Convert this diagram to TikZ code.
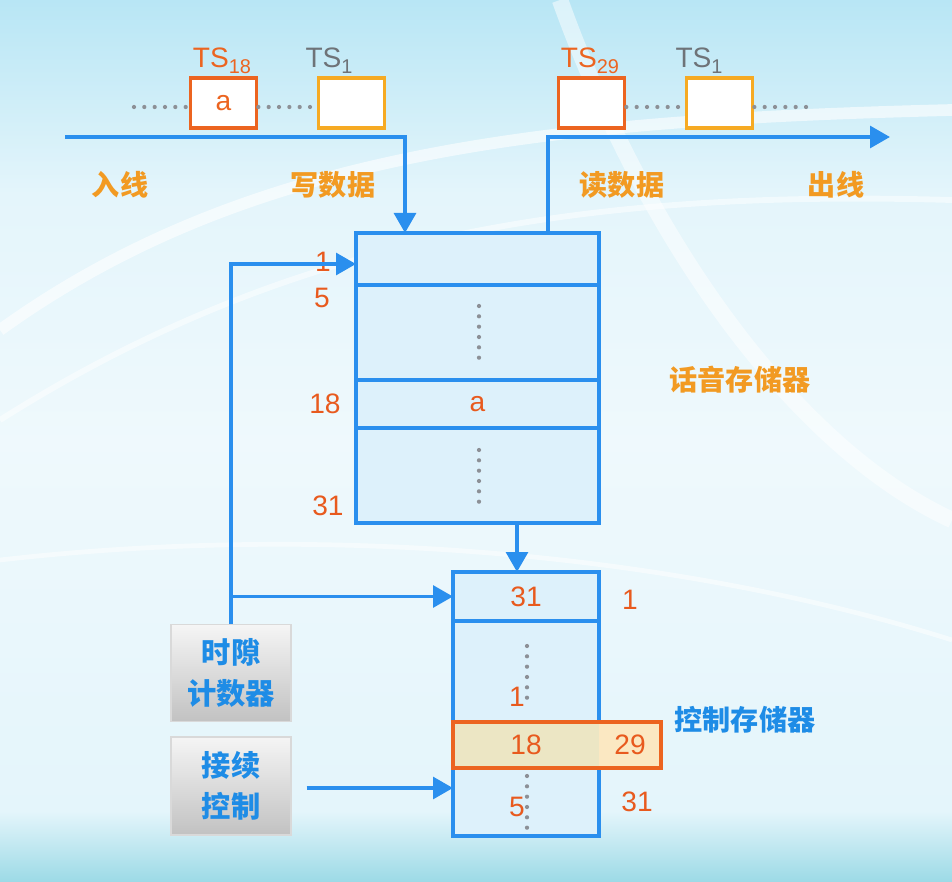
\documentclass[tikz,border=0pt]{standalone}
\usepackage{fontspec}
\setmainfont{Liberation Sans}
\newfontfamily\cjk{Noto Sans CJK SC}
\usetikzlibrary{arrows.meta,calc,positioning}

\definecolor{lineblue}{HTML}{2A8FEE}
\definecolor{numred}{HTML}{E85A1E}
\definecolor{tsred}{HTML}{EC6420}
\definecolor{tsyellow}{HTML}{F6AA23}
\definecolor{lblorange}{HTML}{F29A22}
\definecolor{zhblue}{HTML}{1E8CE6}
\definecolor{cellfill}{HTML}{DDF1FB}
\definecolor{dotgray}{HTML}{8C9096}
\definecolor{txtgray}{HTML}{6E7378}
\definecolor{hilite}{HTML}{ECE6C4}
\definecolor{hiliteR}{HTML}{FBE8C2}
\definecolor{bgtop}{HTML}{B8E6F5}
\definecolor{bgmid}{HTML}{E4F5FB}
\definecolor{bgbot}{HTML}{9CDAE6}

\pgfdeclareverticalshading{bgshade}{100bp}{color(0bp)=(bgbot); color(25bp)=(bgbot);
  color(29bp)=(bgmid); color(50bp)=(bgmid!60!white); color(64bp)=(bgmid); color(75bp)=(bgtop); color(100bp)=(bgtop)}

\tikzset{
  wire/.style={lineblue, line width=3.4pt},
  flow/.style={wire, -{Triangle[length=6mm,width=6.5mm]}},
  cell/.style={draw=lineblue, line width=3pt, fill=cellfill, inner sep=0pt, outer sep=0pt},
  slot/.style={draw=#1, line width=2.6pt, fill=white, minimum width=20mm, minimum height=15mm, inner sep=0pt},
  dots/.style={dotgray, line width=3.6pt, line cap=round, dash pattern=on 0pt off 3.1mm},
  num/.style={text=numred},
  zhlabel/.style={text=lblorange, font=\fontsize{24}{28}\selectfont\cjk\bfseries},
  graybox/.style={draw=black!15, line width=1pt, top color=black!4, bottom color=black!24,
    minimum width=36mm, minimum height=29mm, align=center, text=zhblue,
    font=\fontsize{25}{35}\selectfont\cjk\bfseries},
}

\begin{document}
\begin{tikzpicture}[x=0.3mm, y=-0.3mm, font=\fontsize{24}{28}\selectfont]

  % Hintergrund
  \useasboundingbox (0,0) rectangle (952,882);
  \shade[shading=bgshade] (0,0) rectangle (952,882);
  \draw[white, line width=10pt, opacity=0.6] (0,330) .. controls (250,150) and (550,120) .. (952,110);
  \draw[white, line width=5pt, opacity=0.5] (0,420) .. controls (300,230) and (600,190) .. (952,200);
  \draw[white, line width=14pt, opacity=0.5] (560,0) .. controls (650,250) and (800,450) .. (952,520);
  \draw[white, line width=4pt, opacity=0.5] (0,560) .. controls (350,520) and (700,560) .. (952,640);

  % Zeitschlitze am Eingang
  \node[slot=tsred, text=tsred] (ts18) at (223.5,103) {a};
  \node[slot=tsyellow] (tsin1) at (351.5,103) {};
  \node[text=tsred, anchor=base] (ts18lbl) at (222,68) {TS\raisebox{-0.35ex}{\fontsize{17}{17}\selectfont 18}};
  \node[text=txtgray, anchor=base] (tsin1lbl) at (329,68) {TS\raisebox{-0.35ex}{\fontsize{17}{17}\selectfont 1}};
  \coordinate (indots) at (134,107);
  \draw[dots] (indots) -- (ts18.west |- indots);
  \draw[dots] (ts18.east |- indots) -- (tsin1.west |- indots);

  % Zeitschlitze am Ausgang
  \node[slot=tsred] (ts29) at (591.5,103) {};
  \node[slot=tsyellow] (tsout1) at (719.5,103) {};
  \node[text=tsred, anchor=base] (ts29lbl) at (590,68) {TS\raisebox{-0.35ex}{\fontsize{17}{17}\selectfont 29}};
  \node[text=txtgray, anchor=base] (tsout1lbl) at (699,68) {TS\raisebox{-0.35ex}{\fontsize{17}{17}\selectfont 1}};
  \coordinate (outdots) at (813,107);
  \draw[dots] (ts29.east |- outdots) -- (tsout1.west |- outdots);
  \draw[dots] (tsout1.east |- outdots) -- (outdots);

  % Sprachspeicher
  \node[cell, minimum width=72.9mm, minimum height=15.6mm] (sm1) at (477.5,259) {};
  \node[cell, minimum width=72.9mm, minimum height=28.5mm, below=0pt of sm1] (sm2) {};
  \node[cell, minimum width=72.9mm, minimum height=14.4mm, below=0pt of sm2, num] (sm3) {a};
  \node[cell, minimum width=72.9mm, minimum height=28.5mm, below=0pt of sm3] (sm4) {};
  \draw[dots] (479,306) -- (479,358);
  \draw[dots] (479,450) -- (479,502);
  \node[num] (sma) at (323,262) {1};
  \node[num] (smb) at (322,298) {5};
  \node[num] (smc) at (325,404) {18};
  \node[num] (smd) at (328,506) {31};
  \node[zhlabel] (smname) at (740,380) {话音存储器};

  % Steuerspeicher
  \node[cell, minimum width=43.8mm, minimum height=14.7mm, num] (cm1) at (526,596.5) {31};
  \node[cell, minimum width=43.8mm, minimum height=30.3mm, below=0pt of cm1] (cm2) {};
  \node[cell, minimum width=43.8mm, minimum height=13.8mm, below=0pt of cm2, fill=hilite, draw=none, num] (cm3) {18};
  \node[cell, minimum width=43.8mm, minimum height=20.4mm, below=0pt of cm3] (cm4) {};
  \node[cell, minimum width=18.6mm, minimum height=13.8mm, right=0pt of cm3, fill=hiliteR, draw=none, num] (cm3r) {29};
  \draw[tsred, line width=3pt] (cm3.north west) rectangle (cm3r.south east);
  \draw[dots] (527,646) -- (527,700);
  \draw[dots] (527,776) -- (527,830);
  \node[num] (cmb) at (517,697) {1};
  \node[num] (cmd) at (517,807) {5};
  \node[num] (cmr1) at (630,600) {1};
  \node[num] (cmr4) at (637,802) {31};
  \node[zhlabel, text=zhblue] (cmname) at (745,720) {控制存储器};

  % Zaehler und Steuerung
  \node[graybox] (tsc) at (231,673) {时隙\\计数器};
  \node[graybox, minimum height=29.4mm] (jc) at (231,786) {接续\\控制};

  % Beschriftungen
  \node[zhlabel] (inname) at (120,185) {入线};
  \node[zhlabel] (wrname) at (333,185) {写数据};
  \node[zhlabel] (rdname) at (622,185) {读数据};
  \node[zhlabel] (outname) at (836,185) {出线};

  % Pfeile
  \coordinate (inL) at (65,137);
  \coordinate (wrt) at ($(sm1.north west)+(49,0)$);
  \coordinate (rdt) at ($(sm1.north west)+(192,0)$);
  \coordinate (outR) at (890,137);
  \coordinate (cx) at (517,0);
  \coordinate (jcin) at ($(cm4.north west)+(0,20)$);
  \draw[flow] (inL) -| (wrt);
  \draw[flow] (rdt) |- (outR);
  \draw[flow] (sm4.south -| cx) -- (cm1.north -| cx);
  \draw[flow] (tsc.north) |- ($(sm1.west)+(0,5)$);
  \draw[flow] (tsc.north |- cm1.west) -- (cm1.west);
  \draw[flow] ($(jc.east |- jcin)+(15,0)$) -- (jcin);

\end{tikzpicture}
\end{document}
